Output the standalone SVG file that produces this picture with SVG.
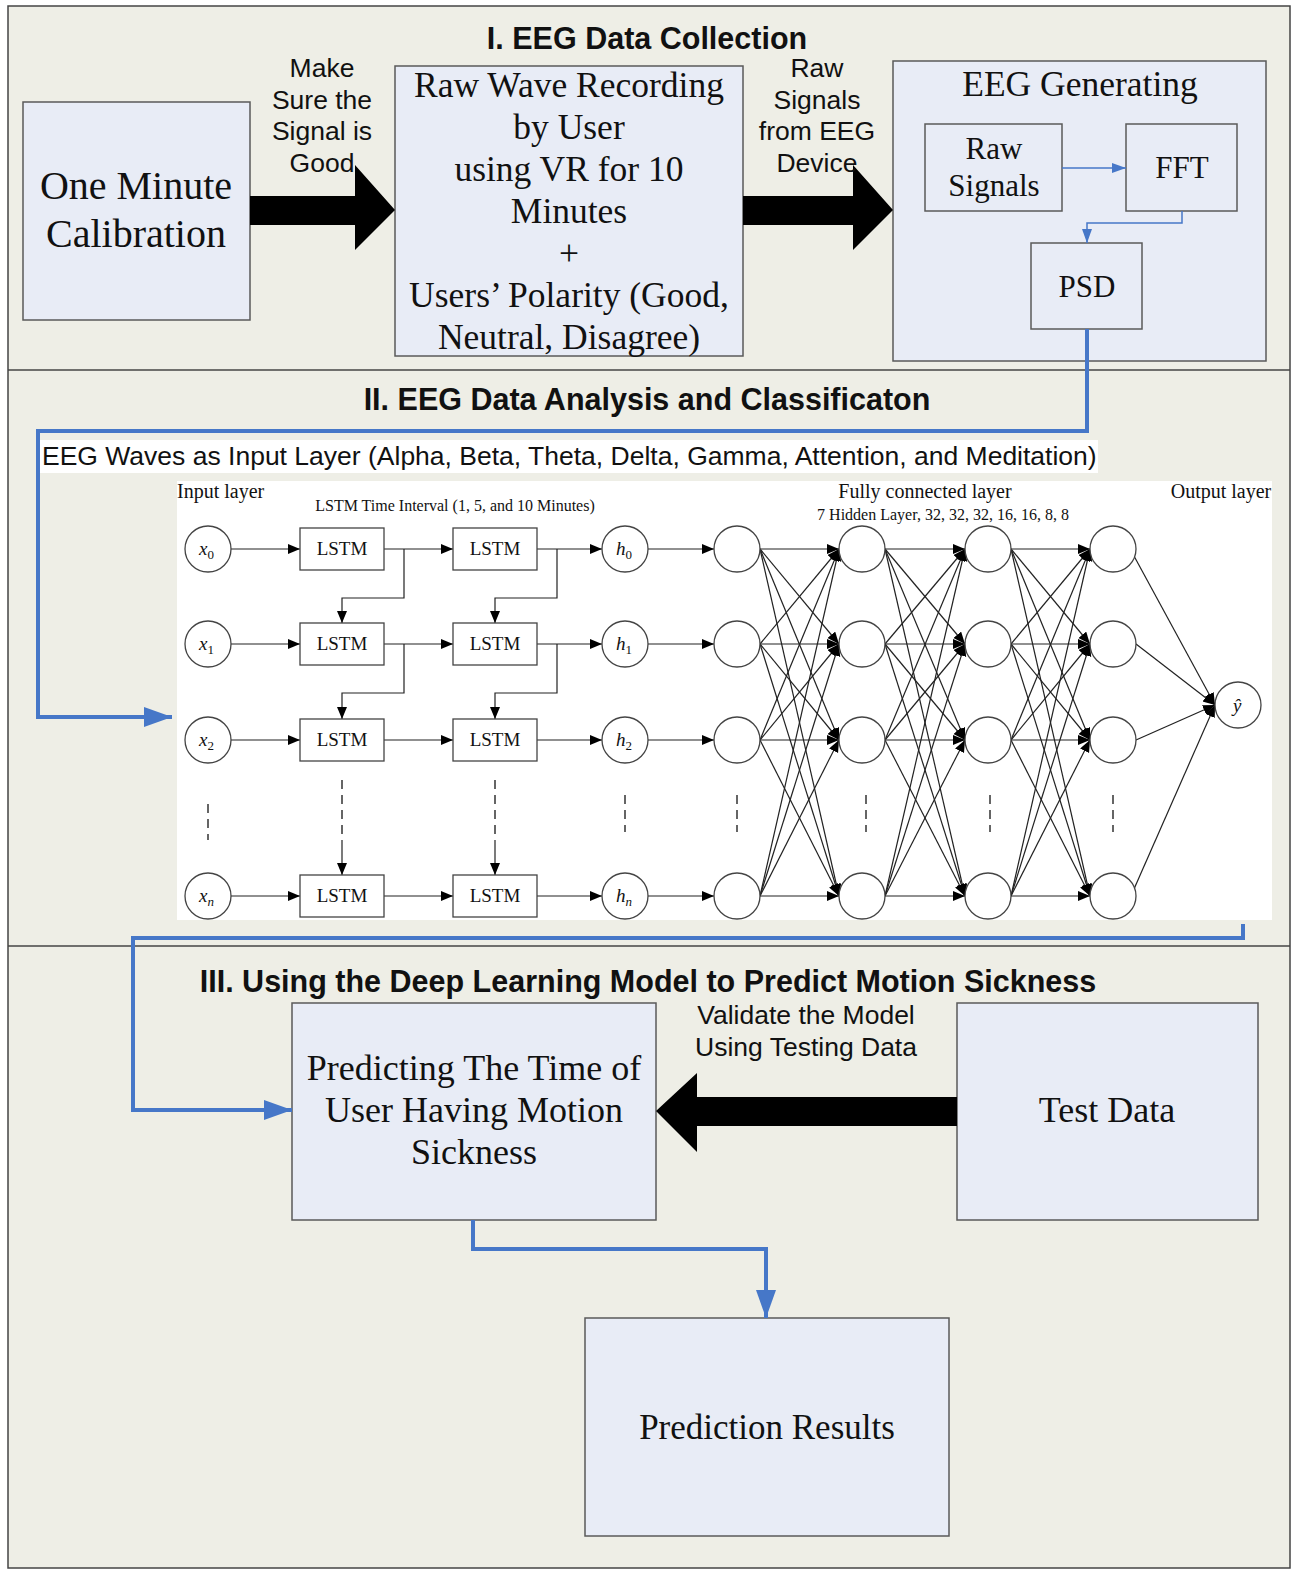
<svg xmlns="http://www.w3.org/2000/svg" width="1296" height="1572" viewBox="0 0 1296 1572">
<style>
.bg{fill:#eeeee6}
.box{fill:#e8ecf6;stroke:#5a5a5a;stroke-width:1.5}
.serif{font-family:"Liberation Serif","Times New Roman",serif;fill:#111}
.sans{font-family:"Liberation Sans",Arial,sans-serif;fill:#111}
.title{font-family:"Liberation Sans",Arial,sans-serif;font-weight:bold;font-size:30.5px;fill:#111}
.blue{fill:none;stroke:#4677c8;stroke-width:4}
.bluethin{fill:none;stroke:#4677c8;stroke-width:1.5}
.nn{fill:none;stroke:#222;stroke-width:1.2}
.circ{fill:#fff;stroke:#444;stroke-width:1.3}
.lstm{fill:#fff;stroke:#444;stroke-width:1.3}
.dash{fill:none;stroke:#333;stroke-width:1.5;stroke-dasharray:9,6}
.bigarrow{fill:#000}
</style>
<defs>
<marker id="ab" markerUnits="userSpaceOnUse" markerWidth="30" markerHeight="24" refX="28" refY="10" orient="auto"><path d="M0,0 L28,10 L0,20 z" fill="#4677c8"/></marker>
<marker id="abs" markerUnits="userSpaceOnUse" markerWidth="16" markerHeight="12" refX="14" refY="5" orient="auto"><path d="M0,0 L14,5 L0,10 z" fill="#4677c8"/></marker>
<marker id="ak" markerUnits="userSpaceOnUse" markerWidth="14" markerHeight="12" refX="12" refY="5" orient="auto"><path d="M0,0 L12,5 L0,10 z" fill="#000"/></marker>
</defs>

<!-- background & sections -->
<rect x="0" y="0" width="1296" height="1572" fill="#ffffff"/>
<rect class="bg" x="8" y="6" width="1282" height="1562" stroke="#444" stroke-width="1.5"/>
<line x1="8" y1="370" x2="1290" y2="370" stroke="#444" stroke-width="1.5"/>
<line x1="8" y1="946" x2="1290" y2="946" stroke="#444" stroke-width="1.5"/>

<!-- Section titles -->
<text class="title" x="647" y="49" text-anchor="middle">I. EEG Data Collection</text>
<text class="title" x="647" y="410" text-anchor="middle">II. EEG Data Analysis and Classificaton</text>
<text class="title" x="648" y="992" text-anchor="middle">III. Using the Deep Learning Model to Predict Motion Sickness</text>

<!-- Section I nodes -->
<g id="calibration">
<rect class="box" x="23" y="102" width="227" height="218"/>
<text class="serif" font-size="40" text-anchor="middle" x="136" y="199">One Minute</text>
<text class="serif" font-size="40" text-anchor="middle" x="136" y="247">Calibration</text>
</g>
<g id="raw-wave">
<rect class="box" x="395" y="66" width="348" height="290"/>
<text class="serif" font-size="35.5" text-anchor="middle" x="569" y="97">Raw Wave Recording</text>
<text class="serif" font-size="35.5" text-anchor="middle" x="569" y="139">by User</text>
<text class="serif" font-size="35.5" text-anchor="middle" x="569" y="181">using VR for 10</text>
<text class="serif" font-size="35.5" text-anchor="middle" x="569" y="223">Minutes</text>
<text class="serif" font-size="35.5" text-anchor="middle" x="569" y="265">+</text>
<text class="serif" font-size="35.5" text-anchor="middle" x="569" y="307">Users’ Polarity (Good,</text>
<text class="serif" font-size="35.5" text-anchor="middle" x="569" y="349">Neutral, Disagree)</text>
</g>
<g id="eeg-generating">
<rect class="box" x="893" y="61" width="373" height="300"/>
<text class="serif" font-size="35.5" text-anchor="middle" x="1080" y="96">EEG Generating</text>
</g>
<g id="raw-signals">
<rect class="box" x="925" y="124" width="137" height="87"/>
<text class="serif" font-size="31" text-anchor="middle" x="994" y="159">Raw</text>
<text class="serif" font-size="31" text-anchor="middle" x="994" y="196">Signals</text>
</g>
<g id="fft">
<rect class="box" x="1126" y="124" width="111" height="87"/>
<text class="serif" font-size="31" text-anchor="middle" x="1182" y="178">FFT</text>
</g>
<g id="psd">
<rect class="box" x="1031" y="243" width="111" height="86"/>
<text class="serif" font-size="31" text-anchor="middle" x="1087" y="297">PSD</text>
</g>

<!-- Section III nodes -->
<g id="predicting">
<rect class="box" x="292" y="1003" width="364" height="217"/>
<text class="serif" font-size="36" text-anchor="middle" x="474" y="1080">Predicting The Time of</text>
<text class="serif" font-size="36" text-anchor="middle" x="474" y="1122">User Having Motion</text>
<text class="serif" font-size="36" text-anchor="middle" x="474" y="1164">Sickness</text>
</g>
<g id="test-data">
<rect class="box" x="957" y="1003" width="301" height="217"/>
<text class="serif" font-size="36" text-anchor="middle" x="1107" y="1122">Test Data</text>
</g>
<g id="prediction-results">
<rect class="box" x="585" y="1318" width="364" height="218"/>
<text class="serif" font-size="35" text-anchor="middle" x="767" y="1439">Prediction Results</text>
</g>

<!-- Connectors -->
<g id="connectors">
<path class="bigarrow" d="M250,196 L355,196 L355,165 L395,210 L355,250 L355,225 L250,225 z"/>
<path class="bigarrow" d="M743,196 L853,196 L853,165 L893,210 L853,250 L853,225 L743,225 z"/>
<path class="bigarrow" d="M957,1097 L697,1097 L697,1073 L656,1111 L697,1152 L697,1126 L957,1126 z"/>
<line class="bluethin" x1="1062" y1="168" x2="1126" y2="168" marker-end="url(#abs)"/>
<path class="bluethin" d="M1182,211 L1182,223 L1087,223 L1087,243" marker-end="url(#abs)"/>
<path class="blue" d="M1087,329 L1087,431 L38,431 L38,717 L172,717" marker-end="url(#ab)"/>
<path class="blue" d="M1243,924 L1243,938 L133,938 L133,1110 L292,1110" marker-end="url(#ab)"/>
<path class="blue" d="M473,1220 L473,1249 L766,1249 L766,1318" marker-end="url(#ab)"/>
</g>

<!-- Edge labels -->
<g class="sans" font-size="26.5" text-anchor="middle">
<text x="322" y="77">Make</text>
<text x="322" y="109">Sure the</text>
<text x="322" y="140">Signal is</text>
<text x="322" y="172">Good</text>
<text x="817" y="77">Raw</text>
<text x="817" y="109">Signals</text>
<text x="817" y="140">from EEG</text>
<text x="817" y="172">Device</text>
<text x="806" y="1024">Validate the Model</text>
<text x="806" y="1056">Using Testing Data</text>
</g>

<!-- Section II network -->
<rect x="40" y="440" width="1058" height="33" fill="#fff"/>
<text class="sans" font-size="26.5" x="42" y="465">EEG Waves as Input Layer (Alpha, Beta, Theta, Delta, Gamma, Attention, and Meditation)</text>
<rect x="177" y="481" width="1095" height="439" fill="#fff"/>

<g class="serif">
<text x="177" y="498" font-size="20">Input layer</text>
<text x="455" y="511" font-size="16" text-anchor="middle">LSTM Time Interval (1, 5, and 10 Minutes)</text>
<text x="925" y="498" font-size="20" text-anchor="middle">Fully connected layer</text>
<text x="943" y="520" font-size="16" text-anchor="middle">7 Hidden Layer, 32, 32, 32, 16, 16, 8, 8</text>
<text x="1221" y="498" font-size="20" text-anchor="middle">Output layer</text>
</g>

<g id="network-edges" class="nn">
<!-- input to LSTM1 -->
<line x1="231" y1="549" x2="300" y2="549" marker-end="url(#ak)"/>
<line x1="231" y1="644" x2="300" y2="644" marker-end="url(#ak)"/>
<line x1="231" y1="740" x2="300" y2="740" marker-end="url(#ak)"/>
<line x1="231" y1="896" x2="300" y2="896" marker-end="url(#ak)"/>
<!-- LSTM1 to LSTM2 -->
<line x1="384" y1="549" x2="453" y2="549" marker-end="url(#ak)"/>
<line x1="384" y1="644" x2="453" y2="644" marker-end="url(#ak)"/>
<line x1="384" y1="740" x2="453" y2="740" marker-end="url(#ak)"/>
<line x1="384" y1="896" x2="453" y2="896" marker-end="url(#ak)"/>
<!-- LSTM2 to h -->
<line x1="537" y1="549" x2="602" y2="549" marker-end="url(#ak)"/>
<line x1="537" y1="644" x2="602" y2="644" marker-end="url(#ak)"/>
<line x1="537" y1="740" x2="602" y2="740" marker-end="url(#ak)"/>
<line x1="537" y1="896" x2="602" y2="896" marker-end="url(#ak)"/>
<!-- vertical LSTM links -->
<path d="M404,549 L404,598 L342,598 L342,623" marker-end="url(#ak)"/>
<path d="M557,549 L557,598 L495,598 L495,623" marker-end="url(#ak)"/>
<path d="M404,644 L404,693 L342,693 L342,719" marker-end="url(#ak)"/>
<path d="M557,644 L557,693 L495,693 L495,719" marker-end="url(#ak)"/>
<line class="dash" x1="342" y1="780" x2="342" y2="840"/>
<line class="dash" x1="495" y1="780" x2="495" y2="840"/>
<line x1="342" y1="840" x2="342" y2="875" marker-end="url(#ak)"/>
<line x1="495" y1="840" x2="495" y2="875" marker-end="url(#ak)"/>
<!-- h to A -->
<line x1="648" y1="549" x2="714" y2="549" marker-end="url(#ak)"/>
<line x1="648" y1="644" x2="714" y2="644" marker-end="url(#ak)"/>
<line x1="648" y1="740" x2="714" y2="740" marker-end="url(#ak)"/>
<line x1="648" y1="896" x2="714" y2="896" marker-end="url(#ak)"/>
<!-- A to B -->
<line x1="760" y1="549" x2="839" y2="549" marker-end="url(#ak)"/>
<line x1="760" y1="549" x2="839" y2="644" marker-end="url(#ak)"/>
<line x1="760" y1="549" x2="839" y2="740" marker-end="url(#ak)"/>
<line x1="760" y1="549" x2="839" y2="896" marker-end="url(#ak)"/>
<line x1="760" y1="644" x2="839" y2="549" marker-end="url(#ak)"/>
<line x1="760" y1="644" x2="839" y2="644" marker-end="url(#ak)"/>
<line x1="760" y1="644" x2="839" y2="740" marker-end="url(#ak)"/>
<line x1="760" y1="644" x2="839" y2="896" marker-end="url(#ak)"/>
<line x1="760" y1="740" x2="839" y2="549" marker-end="url(#ak)"/>
<line x1="760" y1="740" x2="839" y2="644" marker-end="url(#ak)"/>
<line x1="760" y1="740" x2="839" y2="740" marker-end="url(#ak)"/>
<line x1="760" y1="740" x2="839" y2="896" marker-end="url(#ak)"/>
<line x1="760" y1="896" x2="839" y2="549" marker-end="url(#ak)"/>
<line x1="760" y1="896" x2="839" y2="644" marker-end="url(#ak)"/>
<line x1="760" y1="896" x2="839" y2="740" marker-end="url(#ak)"/>
<line x1="760" y1="896" x2="839" y2="896" marker-end="url(#ak)"/>
<!-- B to C -->
<line x1="885" y1="549" x2="965" y2="549" marker-end="url(#ak)"/>
<line x1="885" y1="549" x2="965" y2="644" marker-end="url(#ak)"/>
<line x1="885" y1="549" x2="965" y2="740" marker-end="url(#ak)"/>
<line x1="885" y1="549" x2="965" y2="896" marker-end="url(#ak)"/>
<line x1="885" y1="644" x2="965" y2="549" marker-end="url(#ak)"/>
<line x1="885" y1="644" x2="965" y2="644" marker-end="url(#ak)"/>
<line x1="885" y1="644" x2="965" y2="740" marker-end="url(#ak)"/>
<line x1="885" y1="644" x2="965" y2="896" marker-end="url(#ak)"/>
<line x1="885" y1="740" x2="965" y2="549" marker-end="url(#ak)"/>
<line x1="885" y1="740" x2="965" y2="644" marker-end="url(#ak)"/>
<line x1="885" y1="740" x2="965" y2="740" marker-end="url(#ak)"/>
<line x1="885" y1="740" x2="965" y2="896" marker-end="url(#ak)"/>
<line x1="885" y1="896" x2="965" y2="549" marker-end="url(#ak)"/>
<line x1="885" y1="896" x2="965" y2="644" marker-end="url(#ak)"/>
<line x1="885" y1="896" x2="965" y2="740" marker-end="url(#ak)"/>
<line x1="885" y1="896" x2="965" y2="896" marker-end="url(#ak)"/>
<!-- C to D -->
<line x1="1011" y1="549" x2="1090" y2="549" marker-end="url(#ak)"/>
<line x1="1011" y1="549" x2="1090" y2="644" marker-end="url(#ak)"/>
<line x1="1011" y1="549" x2="1090" y2="740" marker-end="url(#ak)"/>
<line x1="1011" y1="549" x2="1090" y2="896" marker-end="url(#ak)"/>
<line x1="1011" y1="644" x2="1090" y2="549" marker-end="url(#ak)"/>
<line x1="1011" y1="644" x2="1090" y2="644" marker-end="url(#ak)"/>
<line x1="1011" y1="644" x2="1090" y2="740" marker-end="url(#ak)"/>
<line x1="1011" y1="644" x2="1090" y2="896" marker-end="url(#ak)"/>
<line x1="1011" y1="740" x2="1090" y2="549" marker-end="url(#ak)"/>
<line x1="1011" y1="740" x2="1090" y2="644" marker-end="url(#ak)"/>
<line x1="1011" y1="740" x2="1090" y2="740" marker-end="url(#ak)"/>
<line x1="1011" y1="740" x2="1090" y2="896" marker-end="url(#ak)"/>
<line x1="1011" y1="896" x2="1090" y2="549" marker-end="url(#ak)"/>
<line x1="1011" y1="896" x2="1090" y2="644" marker-end="url(#ak)"/>
<line x1="1011" y1="896" x2="1090" y2="740" marker-end="url(#ak)"/>
<line x1="1011" y1="896" x2="1090" y2="896" marker-end="url(#ak)"/>
<!-- D to output -->
<line x1="1134" y1="556" x2="1215" y2="705" marker-end="url(#ak)"/>
<line x1="1136" y1="644" x2="1215" y2="705" marker-end="url(#ak)"/>
<line x1="1136" y1="740" x2="1215" y2="705" marker-end="url(#ak)"/>
<line x1="1134" y1="889" x2="1215" y2="705" marker-end="url(#ak)"/>
<!-- dotted ellipsis -->
<line class="dash" x1="208" y1="804" x2="208" y2="840"/>
<line class="dash" x1="625" y1="795" x2="625" y2="832"/>
<line class="dash" x1="737" y1="795" x2="737" y2="832"/>
<line class="dash" x1="866" y1="795" x2="866" y2="832"/>
<line class="dash" x1="990" y1="795" x2="990" y2="832"/>
<line class="dash" x1="1113" y1="795" x2="1113" y2="832"/>
</g>

<g id="network-nodes">
<g id="x-nodes">
<circle class="circ" cx="208" cy="549" r="23"/>
<circle class="circ" cx="208" cy="644" r="23"/>
<circle class="circ" cx="208" cy="740" r="23"/>
<circle class="circ" cx="208" cy="896" r="23"/>
</g>
<g id="lstm-nodes">
<rect class="lstm" x="300" y="528" width="84" height="42"/>
<rect class="lstm" x="453" y="528" width="84" height="42"/>
<rect class="lstm" x="300" y="623" width="84" height="42"/>
<rect class="lstm" x="453" y="623" width="84" height="42"/>
<rect class="lstm" x="300" y="719" width="84" height="42"/>
<rect class="lstm" x="453" y="719" width="84" height="42"/>
<rect class="lstm" x="300" y="875" width="84" height="42"/>
<rect class="lstm" x="453" y="875" width="84" height="42"/>
</g>
<g id="h-nodes">
<circle class="circ" cx="625" cy="549" r="23"/>
<circle class="circ" cx="625" cy="644" r="23"/>
<circle class="circ" cx="625" cy="740" r="23"/>
<circle class="circ" cx="625" cy="896" r="23"/>
</g>
<g id="hidden-nodes">
<circle class="circ" cx="737" cy="549" r="23"/>
<circle class="circ" cx="737" cy="644" r="23"/>
<circle class="circ" cx="737" cy="740" r="23"/>
<circle class="circ" cx="737" cy="896" r="23"/>
<circle class="circ" cx="862" cy="549" r="23"/>
<circle class="circ" cx="862" cy="644" r="23"/>
<circle class="circ" cx="862" cy="740" r="23"/>
<circle class="circ" cx="862" cy="896" r="23"/>
<circle class="circ" cx="988" cy="549" r="23"/>
<circle class="circ" cx="988" cy="644" r="23"/>
<circle class="circ" cx="988" cy="740" r="23"/>
<circle class="circ" cx="988" cy="896" r="23"/>
<circle class="circ" cx="1113" cy="549" r="23"/>
<circle class="circ" cx="1113" cy="644" r="23"/>
<circle class="circ" cx="1113" cy="740" r="23"/>
<circle class="circ" cx="1113" cy="896" r="23"/>
</g>
<g id="output-node">
<circle class="circ" cx="1238" cy="705" r="23"/>
</g>
<g class="serif" font-size="19" text-anchor="middle">
<text x="342" y="555">LSTM</text>
<text x="495" y="555">LSTM</text>
<text x="342" y="650">LSTM</text>
<text x="495" y="650">LSTM</text>
<text x="342" y="746">LSTM</text>
<text x="495" y="746">LSTM</text>
<text x="342" y="902">LSTM</text>
<text x="495" y="902">LSTM</text>
</g>
<g class="serif" font-size="19" font-style="italic">
<text x="199" y="555">x<tspan font-size="13" font-style="normal" dy="4">0</tspan></text>
<text x="199" y="650">x<tspan font-size="13" font-style="normal" dy="4">1</tspan></text>
<text x="199" y="746">x<tspan font-size="13" font-style="normal" dy="4">2</tspan></text>
<text x="199" y="902">x<tspan font-size="13" dy="4">n</tspan></text>
<text x="616" y="555">h<tspan font-size="13" font-style="normal" dy="4">0</tspan></text>
<text x="616" y="650">h<tspan font-size="13" font-style="normal" dy="4">1</tspan></text>
<text x="616" y="746">h<tspan font-size="13" font-style="normal" dy="4">2</tspan></text>
<text x="616" y="902">h<tspan font-size="13" dy="4">n</tspan></text>
<text x="1233" y="712">ŷ</text>
</g>
</g>
</svg>
